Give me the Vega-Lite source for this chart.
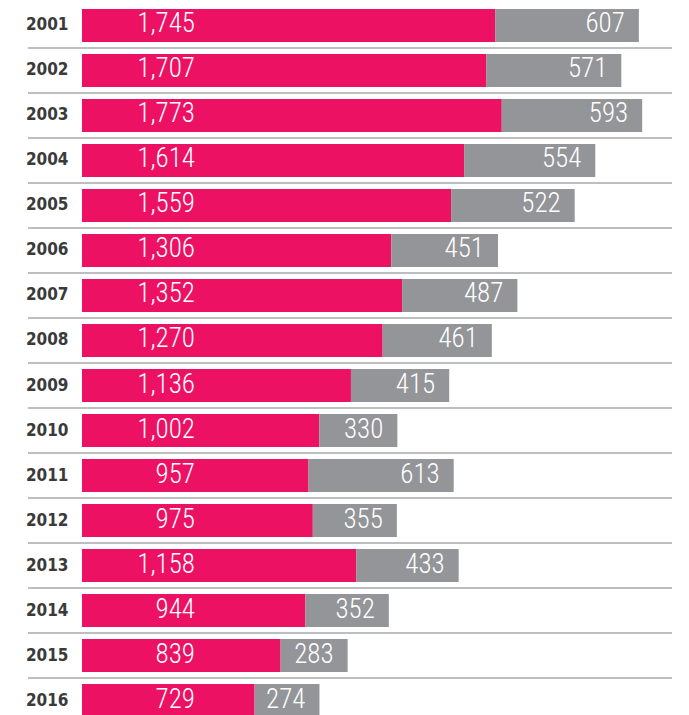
{
  "$schema": "https://vega.github.io/schema/vega-lite/v6.json",
  "width": 644,
  "height": 720,
  "autosize": {"type": "none"},
  "padding": {"left": 28, "top": 3, "right": 0, "bottom": 0},
  "background": "white",
  "config": {"view": {"stroke": null}},
  "data": {
    "values": [
      {"year": "2001", "series": "a_pink", "value": 1745},
      {"year": "2001", "series": "b_gray", "value": 607},
      {"year": "2002", "series": "a_pink", "value": 1707},
      {"year": "2002", "series": "b_gray", "value": 571},
      {"year": "2003", "series": "a_pink", "value": 1773},
      {"year": "2003", "series": "b_gray", "value": 593},
      {"year": "2004", "series": "a_pink", "value": 1614},
      {"year": "2004", "series": "b_gray", "value": 554},
      {"year": "2005", "series": "a_pink", "value": 1559},
      {"year": "2005", "series": "b_gray", "value": 522},
      {"year": "2006", "series": "a_pink", "value": 1306},
      {"year": "2006", "series": "b_gray", "value": 451},
      {"year": "2007", "series": "a_pink", "value": 1352},
      {"year": "2007", "series": "b_gray", "value": 487},
      {"year": "2008", "series": "a_pink", "value": 1270},
      {"year": "2008", "series": "b_gray", "value": 461},
      {"year": "2009", "series": "a_pink", "value": 1136},
      {"year": "2009", "series": "b_gray", "value": 415},
      {"year": "2010", "series": "a_pink", "value": 1002},
      {"year": "2010", "series": "b_gray", "value": 330},
      {"year": "2011", "series": "a_pink", "value": 957},
      {"year": "2011", "series": "b_gray", "value": 613},
      {"year": "2012", "series": "a_pink", "value": 975},
      {"year": "2012", "series": "b_gray", "value": 355},
      {"year": "2013", "series": "a_pink", "value": 1158},
      {"year": "2013", "series": "b_gray", "value": 433},
      {"year": "2014", "series": "a_pink", "value": 944},
      {"year": "2014", "series": "b_gray", "value": 352},
      {"year": "2015", "series": "a_pink", "value": 839},
      {"year": "2015", "series": "b_gray", "value": 283},
      {"year": "2016", "series": "a_pink", "value": 729},
      {"year": "2016", "series": "b_gray", "value": 274}
    ]
  },
  "layer": [
    {
      "transform": [{"filter": "datum.series === 'a_pink'"}],
      "mark": {"type": "rule", "color": "#a7a9ab", "strokeWidth": 1.5, "yOffset": 6},
      "encoding": {
        "y": {
          "field": "year",
          "type": "ordinal",
          "bandPosition": 1,
          "scale": {"paddingInner": 0.2667, "paddingOuter": 0.1333},
          "axis": {
            "title": null,
            "domain": false,
            "ticks": false,
            "tickSize": 0,
            "grid": false,
            "labelAlign": "right",
            "labelPadding": -40,
            "labelFont": "DejaVu Sans Condensed, Liberation Sans Narrow, Roboto Condensed, Roboto, sans-serif",
            "labelFontWeight": "bold",
            "labelFontSize": 17,
            "labelColor": "#3a3a3a"
          }
        }
      }
    },
    {
      "mark": {"type": "bar"},
      "encoding": {
        "y": {"field": "year", "type": "ordinal"},
        "x": {"field": "value", "type": "quantitative", "stack": "zero", "scale": {"domain": [-228, 2492], "zero": false, "nice": false}, "axis": null},
        "color": {
          "field": "series",
          "type": "nominal",
          "scale": {"domain": ["a_pink", "b_gray"], "range": ["#ed1164", "#939598"]},
          "legend": null
        },
        "order": {"field": "series", "type": "nominal"}
      }
    },
    {
      "transform": [{"filter": "datum.series === 'a_pink'"}],
      "mark": {"type": "text", "align": "right", "baseline": "middle", "dx": 113, "dy": -1, "font": "Roboto Condensed, Liberation Sans Narrow, Roboto, sans-serif", "fontWeight": 300, "fontSize": 27, "color": "white"},
      "encoding": {
        "y": {"field": "year", "type": "ordinal"},
        "x": {"datum": 0},
        "text": {"field": "value", "type": "quantitative", "format": ","}
      }
    },
    {
      "mark": {"type": "text", "align": "right", "baseline": "middle", "dx": -14, "dy": -1, "font": "Roboto Condensed, Liberation Sans Narrow, Roboto, sans-serif", "fontWeight": 300, "fontSize": 27, "color": "white"},
      "encoding": {
        "y": {"field": "year", "type": "ordinal"},
        "x": {"field": "value", "type": "quantitative", "stack": "zero"},
        "detail": {"field": "series", "type": "nominal"},
        "order": {"field": "series", "type": "nominal"},
        "text": {
          "condition": {"test": "datum.series === 'b_gray'", "field": "value", "type": "quantitative", "format": ","},
          "value": ""
        }
      }
    }
  ]
}
